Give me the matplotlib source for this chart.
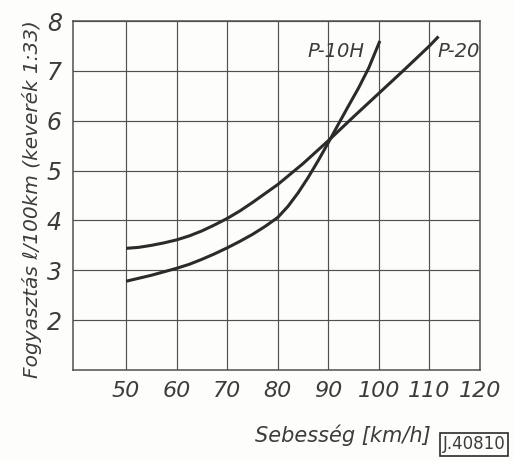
import matplotlib
matplotlib.use("Agg")
import matplotlib.pyplot as plt
from matplotlib import font_manager as fm

# ---- data ----
speed_p10h = [50, 52.5, 55, 57.5, 60, 62.5, 65, 67.5, 70, 72.5, 75, 77.5, 80, 82, 84, 86, 88,
              90, 91.5, 94, 96, 98, 100.2]
cons_p10h = [2.78, 2.84, 2.90, 2.97, 3.04, 3.12, 3.22, 3.33, 3.45, 3.58, 3.72, 3.88, 4.06, 4.28, 4.55,
             4.86, 5.20, 5.56, 5.84, 6.30, 6.66, 7.06, 7.60]

speed_p20 = [50, 52.5, 55, 57.5, 60, 62.5, 65, 67.5, 70, 72.5, 75, 77.5, 80, 85, 90, 95,
             100, 105, 110, 111.8]
cons_p20 = [3.44, 3.46, 3.50, 3.55, 3.61, 3.69, 3.79, 3.91, 4.04, 4.19, 4.36, 4.54, 4.72, 5.14, 5.60,
            6.08, 6.55, 7.02, 7.50, 7.69]

x_ticks = [50, 60, 70, 80, 90, 100, 110, 120]
y_ticks = [2, 3, 4, 5, 6, 7, 8]
series_labels = ["P-10H", "P-20"]

# choose a narrow font if available, otherwise DejaVu Sans with smaller sizes
names = {f.name for f in fm.fontManager.ttflist}
if "Liberation Sans Narrow" in names:
    FAMILY = ["Liberation Sans Narrow", "DejaVu Sans"]
    S_XT, S_YT, S_XLAB, S_YLAB, S_SER, S_BOX = 19, 19, 19, 16, 15, 14
else:
    FAMILY = ["DejaVu Sans"]
    S_XT, S_YT, S_XLAB, S_YLAB, S_SER, S_BOX = 16, 17, 15, 14.5, 14, 12

plt.rcParams["font.family"] = FAMILY
plt.rcParams["font.style"] = "italic"

INK = "#2b2b2b"
TXT = "#3c3c3c"
GRID = "#505050"
BG = "#fdfdfb"

fig = plt.figure(figsize=(5.14, 4.61), dpi=100, facecolor=BG)
ax = fig.add_axes([73 / 514, 1 - 370 / 461, (480 - 73) / 514, (370 - 21) / 461])
ax.set_facecolor(BG)

ax.set_xlim(39.5, 120)
ax.set_ylim(1, 8)
ax.set_xticks(x_ticks)
ax.set_yticks(y_ticks)
ax.set_xticklabels([str(v) for v in x_ticks])
ax.set_yticklabels([str(v) for v in y_ticks])

ax.grid(True, color=GRID, linewidth=0.85)
ax.set_axisbelow(True)
for sp in ax.spines.values():
    sp.set_color(GRID)
    sp.set_linewidth(1.1)

ax.tick_params(length=0, colors=TXT)
ax.tick_params(axis="x", pad=8, labelsize=S_XT)
ax.tick_params(axis="y", pad=8, labelsize=S_YT)

ax.plot(speed_p10h, cons_p10h, color=INK, linewidth=2.2, solid_capstyle="butt",
        solid_joinstyle="round")
ax.plot(speed_p20, cons_p20, color=INK, linewidth=2.2, solid_capstyle="butt",
        solid_joinstyle="round")

ax.text(91.5, 7.38, series_labels[0], fontsize=S_SER, color=TXT, ha="center", va="center")
ax.text(115.8, 7.38, series_labels[1], fontsize=S_SER, color=TXT, ha="center", va="center")

ax.set_xlabel("Sebesség [km/h]", fontsize=S_XLAB, color=TXT)
ax.xaxis.set_label_coords(0.663, -0.186)
ax.xaxis.label.set_va("center")

ax.set_ylabel("Fogyasztás ℓ/100km (keverék 1:33)", fontsize=S_YLAB, color=TXT)
ax.yaxis.set_label_coords(-0.10, 0.49)
ax.yaxis.label.set_va("center")

fig.text(474 / 514, 1 - 444 / 461, "J.40810", fontsize=S_BOX, color=TXT, style="normal",
         ha="center", va="center",
         bbox=dict(boxstyle="square,pad=0.15", facecolor="none", edgecolor=INK, linewidth=1.2))

fig.savefig("out.png", dpi=100, facecolor=fig.get_facecolor())
